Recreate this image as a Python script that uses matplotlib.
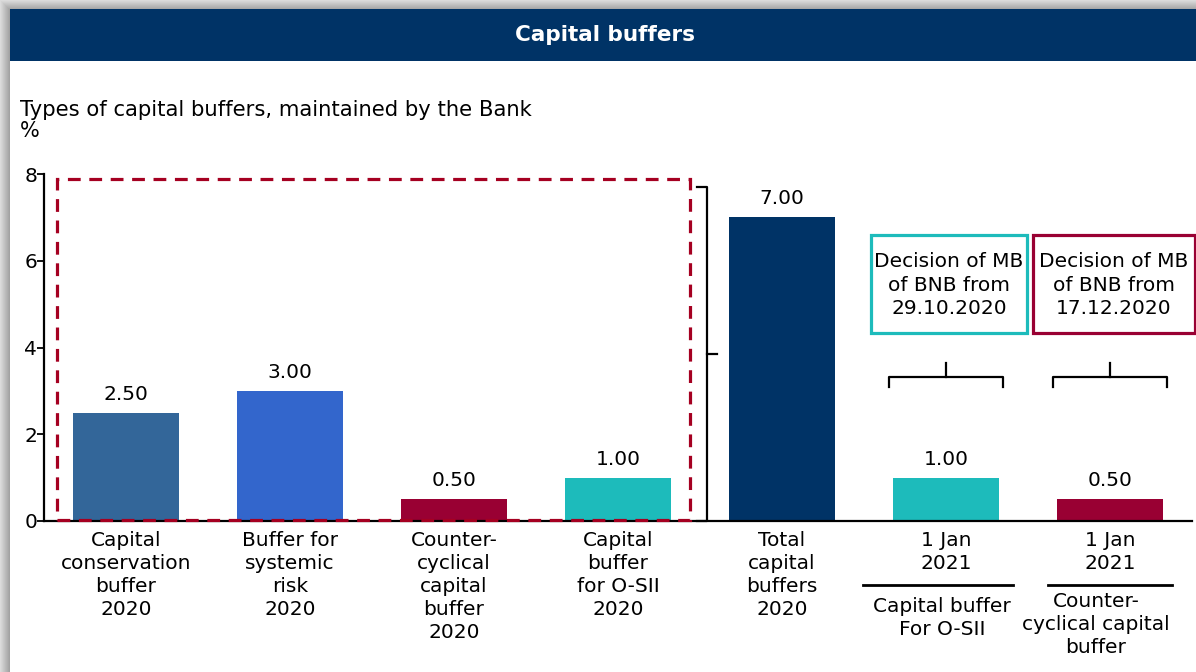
import matplotlib.pyplot as plt
import numpy as np
from matplotlib.patches import Rectangle

plt.rcParams['font.family'] = ['DejaVu Sans']

# chart data
categories = ['Capital\nconservation\nbuffer\n2020', 'Buffer for\nsystemic\nrisk\n2020',
              'Counter-\ncyclical\ncapital\nbuffer\n2020', 'Capital\nbuffer\nfor O-SII\n2020',
              'Total\ncapital\nbuffers\n2020', '1 Jan\n2021', '1 Jan\n2021']
values = [2.50, 3.00, 0.50, 1.00, 7.00, 1.00, 0.50]
colors = ['#336699', '#3366CC', '#990033', '#1DBBBB', '#003366', '#1DBBBB', '#990033']
sub_labels = ['Capital buffer\nFor O-SII', 'Counter-\ncyclical capital\nbuffer']
decisions = ['Decision of MB\nof BNB from\n29.10.2020', 'Decision of MB\nof BNB from\n17.12.2020']
decision_colors = ['#1DBBBB', '#990033']
yticks = [0, 2, 4, 6, 8]

W, H = 1196, 672
fig = plt.figure(figsize=(W / 100, H / 100), dpi=100)

# background: shadow, white panel, title bar
bg = fig.add_axes([0, 0, 1, 1])
bg.set_xlim(0, W)
bg.set_ylim(H, 0)
bg.axis('off')
bg.add_patch(Rectangle((0, 0), W, H, color='#dcdcdc', lw=0))
for i in range(10):
    g = 0.86 - 0.025 * i
    bg.add_patch(Rectangle((i, i), 1, H, color=(g, g, g), lw=0))
    bg.add_patch(Rectangle((i, i), W, 1, color=(g, g, g), lw=0))
bg.add_patch(Rectangle((10, 9), W - 10, H - 9, color='white', lw=0))
bg.add_patch(Rectangle((10, 9), W - 10, 52, color='#003366', lw=0))
bg.text(605, 35, 'Capital buffers', color='white', weight='bold', fontsize=15.5,
        ha='center', va='center')
bg.text(20, 110, 'Types of capital buffers, maintained by the Bank', fontsize=15.2,
        ha='left', va='center')
bg.text(20, 131, '%', fontsize=15, ha='left', va='center')

# main axes
ax = fig.add_axes([44 / W, 1 - 521 / H, (1192 - 44) / W, (521 - 174) / H])
ax.patch.set_alpha(0)
x = np.arange(len(values))
ax.bar(x, values, width=0.65, color=colors, zorder=2)
ax.set_xlim(-0.5, 6.5)
ax.set_ylim(0, 8)
for s in ['top', 'right']:
    ax.spines[s].set_visible(False)
for s in ['left', 'bottom']:
    ax.spines[s].set_linewidth(1.6)
    ax.spines[s].set_color('black')
ax.set_xticks([])
ax.set_yticks(yticks)
ax.tick_params(axis='y', direction='out', length=5, width=1.3, labelsize=14.5, pad=0)

for i, v in enumerate(values):
    ax.annotate(f'{v:.2f}', (i, v), xytext=(0, 9), textcoords='offset pixels',
                ha='center', va='bottom', fontsize=14.5)
    ax.annotate(categories[i], (i, 0), xycoords=('data', 'axes fraction'),
                xytext=(0, -10), textcoords='offset pixels', ha='center', va='top',
                fontsize=14.5, linespacing=1.27, annotation_clip=False)

# red dashed frame around the 2020 components
ax.add_patch(Rectangle((-0.42, 0.02), 3.86, 7.86, fill=False, ec='#A50021', lw=2.3,
                       ls=(0, (4, 2.7)), clip_on=False, zorder=4))

# vertical brace pointing to the total
bk = dict(color='black', lw=1.6, clip_on=False, zorder=3)
ax.plot([3.48, 3.543, 3.543, 3.48], [7.70, 7.70, 0.0, 0.0], **bk)
ax.plot([3.543, 3.604], [3.85, 3.85], **bk)

# horizontal braces, decision boxes and sub labels for 2021
sub_offsets = [(-0.05, 0.915, -0.024, -76), (0.0, 0.76, -0.085, -71)]
for k, i in enumerate([5, 6]):
    ax.plot([i - 0.345, i - 0.345, i + 0.345, i + 0.345], [3.09, 3.32, 3.32, 3.09], **bk)
    ax.plot([i, i], [3.32, 3.64], **bk)
    left = 4.543 if k == 0 else 5.53
    width = 0.951 if k == 0 else 0.99
    ax.add_patch(Rectangle((left, 4.33), width, 2.26, fill=False, ec=decision_colors[k],
                           lw=2.3, clip_on=False, zorder=3))
    ax.text(left + width / 2, 5.44, decisions[k], ha='center', va='center',
            fontsize=14.5, linespacing=1.3)
    dx, lw_, tx, ty = sub_offsets[k]
    x0 = i + dx - lw_ / 2
    ax.plot([x0, x0 + lw_], [-1.475, -1.475], color='black', lw=2, clip_on=False)
    ax.annotate(sub_labels[k], (i + tx, 0), xycoords=('data', 'axes fraction'),
                xytext=(0, ty), textcoords='offset pixels', ha='center', va='top',
                fontsize=14.5, linespacing=1.27, annotation_clip=False)

fig.savefig('out.png', dpi=100)
